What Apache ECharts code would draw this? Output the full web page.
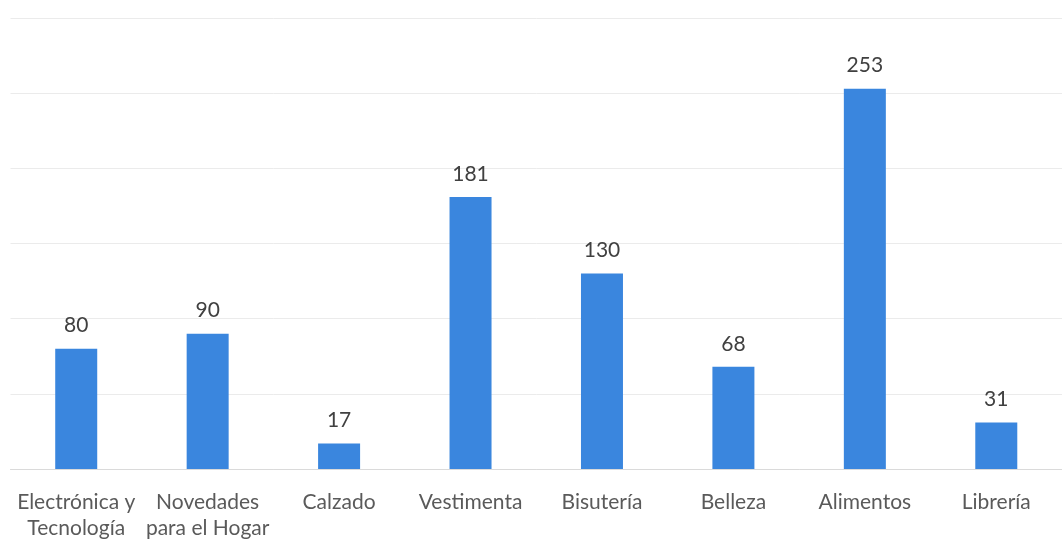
<!DOCTYPE html>
<html>
<head>
<meta charset="utf-8">
<script src="https://cdn.jsdelivr.net/npm/echarts@6/dist/echarts.min.js"></script>
<style>
  html, body { margin: 0; padding: 0; background: #ffffff; }
  #chart { width: 1062px; height: 541px; }
</style>
</head>
<body>
<div id="chart"></div>
<script>
// Sales count by product category
const categories = [
  'Electrónica y\nTecnología',
  'Novedades\npara el Hogar',
  'Calzado',
  'Vestimenta',
  'Bisutería',
  'Belleza',
  'Alimentos',
  'Librería'
];
const values = [80, 90, 17, 181, 130, 68, 253, 31];

const FONT = 'Lato, "Open Sans", sans-serif';

const chart = echarts.init(document.getElementById('chart'));
chart.setOption({
  backgroundColor: '#ffffff',
  animation: false,
  grid: { left: 10.5, top: 18, width: 1072, height: 452, containLabel: false },
  xAxis: {
    type: 'category',
    data: categories,
    axisLine: { show: true, lineStyle: { color: '#dadada', width: 1 } },
    axisTick: { show: false },
    axisLabel: {
      interval: 0,
      color: '#5a5a5a',
      fontFamily: FONT,
      fontSize: 21,
      lineHeight: 26,
      margin: 20
    }
  },
  yAxis: {
    type: 'value',
    min: 0,
    max: 300,
    interval: 50,
    axisLine: { show: false },
    axisTick: { show: false },
    axisLabel: { show: false },
    splitLine: { lineStyle: { color: '#ebebeb', width: 1 } }
  },
  series: [{
    type: 'bar',
    data: values,
    barWidth: 42,
    itemStyle: { color: '#3a86de' },
    label: {
      show: true,
      position: 'top',
      distance: 11,
      color: '#404040',
      fontFamily: FONT,
      fontSize: 21,
      lineHeight: 24
    }
  }]
});
</script>
</body>
</html>
